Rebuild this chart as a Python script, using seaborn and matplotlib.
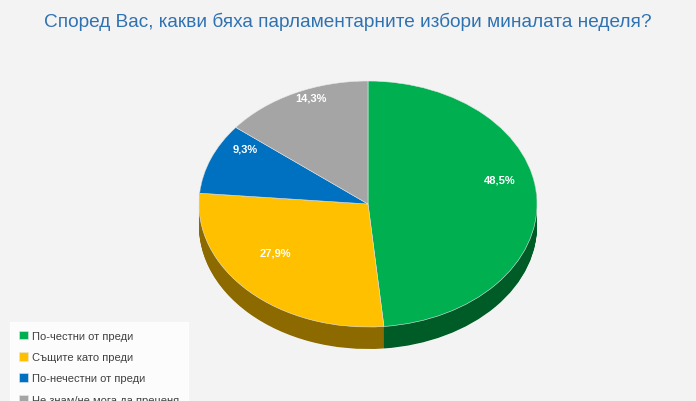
import matplotlib
matplotlib.use("Agg")
import matplotlib.pyplot as plt
import seaborn as sns

categories = ["По-честни от преди", "Същите като преди", "По-нечестни от преди",
              "Не знам/не мога да преценя"]
shares = [48.5, 27.9, 9.3, 14.3]
pct_labels = ["48,5%", "27,9%", "9,3%", "14,3%"]
title = "Според Вас, какви бяха парламентарните избори миналата неделя?"

top_colors = sns.color_palette(["#00b050", "#ffc000", "#0070c0", "#a5a5a5"])
side_colors = sns.color_palette(["#005c26", "#8c6a00", "#003f6e", "#5f5f5f"])

sns.set_theme(style="white")
plt.rcParams['font.family'] = ['Liberation Sans', 'DejaVu Sans']

W, H = 696, 402
bg = "#f3f3f3"
fig = plt.figure(figsize=(W / 100, H / 100), dpi=100, facecolor=bg)
ax = fig.add_axes([0, 0, 1, 1])
ax.set_facecolor(bg)

# ellipse geometry in pixels
cx, cy = 368, 402 - 205
rx, ry = 169, 123
depth = 22

# side of the 3d pie: stacked darker copies
n_layers = 30
for i in range(n_layers, 0, -1):
    off = depth / ry * i / n_layers
    ax.pie(shares, colors=side_colors, startangle=90, counterclock=False,
           center=(0, -off), radius=1, frame=True,
           wedgeprops=dict(linewidth=0))

wedges, texts, autotexts = ax.pie(
    shares, colors=top_colors, startangle=90, counterclock=False,
    center=(0, 0), radius=1, frame=True,
    autopct="%1.1f%%", pctdistance=0.78,
    wedgeprops=dict(linewidth=0.4, edgecolor="#e8e8e8"),
    textprops=dict(color="white", fontsize=8, fontweight="bold"))
for t, lab in zip(autotexts, pct_labels):
    t.set_text(lab)
    x, y = t.get_position()
    t.set_position((x, y + 0.16))

ax.set_aspect("auto")
ax.set_xlim(-cx / rx, (W - cx) / rx)
ax.set_ylim(-cy / ry, (H - cy) / ry)
ax.axis("off")

fig.text(0.5, 1 - 22 / H, title, ha="center", va="center",
         color="#2f72b2", fontsize=13.7)

leg = fig.legend(wedges, categories, loc="upper left",
                 bbox_to_anchor=(10 / W, 1 - 323 / H),
                 frameon=True, fancybox=False, fontsize=8,
                 handlelength=0.8, handleheight=0.8, handletextpad=0.35,
                 labelspacing=1.0, borderpad=0.8, borderaxespad=0)
leg.get_frame().set_facecolor("white")
leg.get_frame().set_edgecolor("white")
for txt in leg.get_texts():
    txt.set_color("#404040")

fig.savefig("out.png", dpi=100, facecolor=bg)
